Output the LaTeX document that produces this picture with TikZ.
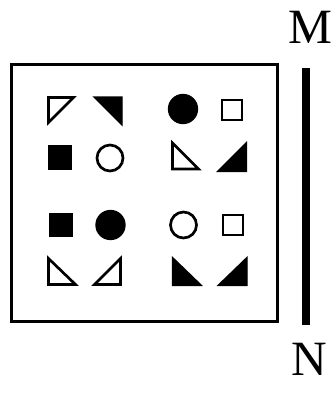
\documentclass[tikz,border=0pt]{standalone}
\usepackage{fontspec}
\setmainfont{Liberation Serif}
\usetikzlibrary{positioning}

\begin{document}
\begin{tikzpicture}[x=0.75pt, y=-0.75pt,
    hollow/.style={draw=black, fill=white, line width=2pt, line join=miter},
    solid/.style={draw=black, fill=black, line width=1pt, line join=miter},
    label/.style={font=\fontsize{37}{40}\selectfont, inner sep=0pt}]
    \useasboundingbox (0,0) rectangle (331,393);
    % Outer frame
    \draw[line width=2.3pt] (11.5,64.5) rectangle (277.5,321.5);
    % Top-left group
    \draw[hollow] (61,110) ++(-12.5,-12.5) -- ++(25,0) -- ++(-25,25) -- cycle;
    \draw[solid] (108,111) ++(-14,-14) -- ++(28,0) -- ++(0,28) -- cycle;
    \draw[solid] (60,157.5) ++(-11.5,-11.5) rectangle ++(23,23);
    \draw[hollow] (110,158) circle (13);
    % Top-right group
    \draw[solid] (183,109) circle (14.5);
    \draw[hollow] (232,110) ++(-10,-10) rectangle ++(20,20);
    \draw[hollow] (185.5,156) ++(-13,-13) -- ++(0,26) -- ++(26,0) -- cycle;
    \draw[solid] (232,157) ++(14.5,-14.5) -- ++(0,29) -- ++(-29,0) -- cycle;
    % Bottom-left group
    \draw[solid] (61,225) ++(-11.5,-11.5) rectangle ++(23,23);
    \draw[solid] (110.5,225) circle (14.5);
    \draw[hollow] (62,271.5) ++(-13.5,-13) -- ++(0,26) -- ++(27,0) -- cycle;
    \draw[hollow] (107.5,271.5) ++(13,-13) -- ++(0,26) -- ++(-26,0) -- cycle;
    % Bottom-right group
    \draw[hollow] (183.5,225) circle (13);
    \draw[hollow] (233,225) ++(-10,-10) rectangle ++(20,20);
    \draw[solid] (187,271.5) ++(-14.5,-14) -- ++(0,28) -- ++(29,0) -- cycle;
    \draw[solid] (232.5,271.5) ++(14.5,-14) -- ++(0,28) -- ++(-29,0) -- cycle;
    % Mirror MN
    \node[label] (M) at (310,27) {M};
    \node[label] (N) at (309,359) {N};
    \coordinate (top) at (306,68);
    \coordinate (bottom) at (306,325);
    \draw[line width=5.5pt] (top) -- (bottom);
\end{tikzpicture}
\end{document}
